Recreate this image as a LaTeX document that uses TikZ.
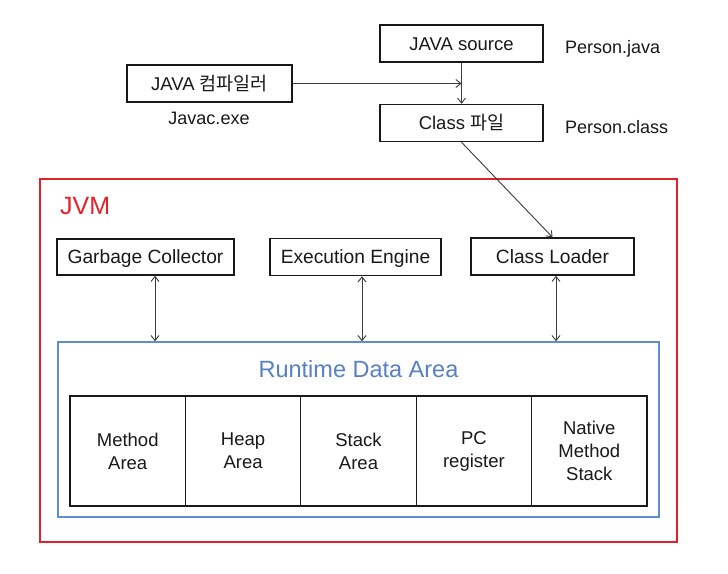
\documentclass[tikz,border=0pt]{standalone}
\usepackage{fontspec}
\setmainfont{Liberation Sans}
\newfontfamily\kr{Noto Sans CJK KR}
\usetikzlibrary{arrows.meta}
\definecolor{jvmred}{RGB}{228,32,40}
\definecolor{rdablue}{RGB}{96,140,212}
\definecolor{rdatext}{RGB}{88,128,196}
\definecolor{ink}{RGB}{25,25,25}
\tikzset{
  box/.style={draw=ink, line width=1.5pt, inner sep=0pt, minimum height=37pt, text=ink,
    text height=13.3pt, text depth=0pt,
    font=\fontsize{18.5}{22}\selectfont},
  lbl/.style={inner sep=0pt, text=ink, text height=13pt, text depth=0pt, font=\fontsize{18}{22}\selectfont},
  cell/.style={draw=ink, line width=1.3pt, inner sep=0pt, minimum width=115.4pt, minimum height=110pt,
    align=center, text=ink, font=\fontsize{18.5}{23}\selectfont},
  conn/.style={draw=ink!85, line width=0.9pt, -{Straight Barb[length=5pt,width=8pt]}},
  dbl/.style={draw=ink!85, line width=0.9pt, {Straight Barb[length=5pt,width=8pt]}-{Straight Barb[length=5pt,width=8pt]}}
}
\begin{document}
\begin{tikzpicture}[x=1pt,y=-1pt]
\useasboundingbox[fill=white] (0,0) rectangle (728,573);

% top part
\node[box, minimum width=163pt] (src) at (461.5,43.5) {JAVA source};
\node[box, minimum width=163pt] (cls) at (461.5,123) {Class {\kr 파일}};
\node[box, minimum width=165pt] (comp) at (209.5,83.5) {JAVA {\kr 컴파일러}};
\node[lbl, anchor=west] (pj) at (565,47) {Person.java};
\node[lbl, anchor=west] (pc) at (565,127) {Person.class};
\node[lbl] (jx) at (209,117.5) {Javac.exe};

% JVM
\node[draw=jvmred, line width=1.8pt, minimum width=637pt, minimum height=363pt, inner sep=0pt] (jvm) at (358.5,360.5) {};
\node[inner sep=0pt, anchor=west, text=jvmred, text height=18pt, text depth=0pt, font=\fontsize{25}{30}\selectfont] (jvmt) at (60,205) {JVM};

\node[box, minimum width=177pt, minimum height=36pt, font=\fontsize{19.2}{22}\selectfont] (gc) at (145.5,257) {Garbage Collector};
\node[box, minimum width=171pt, minimum height=37pt, font=\fontsize{19.2}{22}\selectfont] (ee) at (355.5,257) {Execution Engine};
\node[box, minimum width=163pt, minimum height=37pt, font=\fontsize{19.2}{22}\selectfont] (cl) at (552.5,256.5) {Class Loader};

% Runtime data area
\node[draw=rdablue, line width=1.6pt, minimum width=601pt, minimum height=175pt, inner sep=0pt] (rda) at (358.5,429.5) {};
\node[inner sep=0pt, text=rdatext, text height=17pt, text depth=0pt, font=\fontsize{23.5}{28}\selectfont] (rdat) at (358.5,369) {Runtime Data Area};

\node[cell] (c1) at (127.7,451) {Method\\Area};
\node[cell] (c2) at (243.1,451) {Heap\\Area};
\node[cell] (c3) at (358.5,451) {Stack\\Area};
\node[cell] (c4) at (473.9,451) {PC\\register};
\node[cell] (c5) at (589.3,451) {Native\\Method\\Stack};

% connectors
\draw[conn] (comp.east) -- (comp.east -| src.south);
\draw[conn] (src.south) -- (cls.north);
\draw[conn] (cls.south) -- (cl.north);

\coordinate (a1) at (155,0);
\coordinate (a2) at (362,0);
\coordinate (a3) at (556,0);
\draw[dbl] (gc.south -| a1) -- (rda.north -| a1);
\draw[dbl] (ee.south -| a2) -- (rda.north -| a2);
\draw[dbl] (cl.south -| a3) -- (rda.north -| a3);
\end{tikzpicture}
\end{document}
